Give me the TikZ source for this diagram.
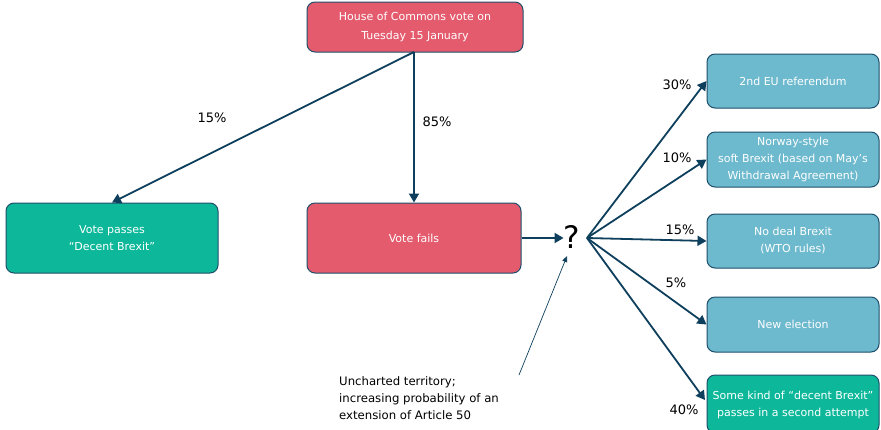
\documentclass[tikz,border=0pt]{standalone}
\usepackage{fontspec}
\setmainfont{DejaVu Sans}
\usetikzlibrary{arrows.meta}
\definecolor{pinkbox}{HTML}{E45B6E}
\definecolor{greenbox}{HTML}{0DB89A}
\definecolor{bluebox}{HTML}{6DB9CE}
\definecolor{edgec}{HTML}{1E4F6A}
\definecolor{arrc}{HTML}{0E3F5C}
\tikzset{
  box/.style={draw=edgec, line width=1pt, rounded corners=8pt, text=white, align=center, font=\fontsize{11}{17}\selectfont, inner sep=0pt},
  conn/.style={draw=arrc, line width=1.8pt, -{Triangle[length=9pt,width=10pt]}},
  thinconn/.style={draw=arrc, line width=0.7pt, -{Triangle[length=6pt,width=5pt]}},
  pct/.style={font=\fontsize{13}{13}\selectfont, text=black}
}
\begin{document}
\begin{tikzpicture}[x=1pt,y=-1pt]
\useasboundingbox (0,0) rectangle (881,429);
\clip (0,0) rectangle (881,429);
\fill[white] (0,0) rectangle (881,429);
\node[box, fill=pinkbox, minimum width=216pt, minimum height=50pt, font=\fontsize{11}{19}\selectfont] (top) at (415,27) {House of Commons vote on\\Tuesday 15 January};
\node[box, fill=greenbox, minimum width=212pt, minimum height=70pt] (pass) at (112,238) {Vote passes\\“Decent Brexit”};
\node[box, fill=pinkbox, minimum width=214pt, minimum height=70pt] (fail) at (414,238) {Vote fails};
\node[font=\fontsize{31}{31}\selectfont, inner sep=0pt, text=black] (q) at (572,237) {?};
\coordinate (qs) at (587,238);
\node[box, fill=bluebox, minimum width=172pt, minimum height=54pt] (r1) at (793,81) {2nd EU referendum};
\node[box, fill=bluebox, minimum width=172pt, minimum height=55pt] (r2) at (793,159.5) {Norway-style\\soft Brexit (based on May’s\\Withdrawal Agreement)};
\node[box, fill=bluebox, minimum width=172pt, minimum height=54pt] (r3) at (793,241) {No deal Brexit\\(WTO rules)};
\node[box, fill=bluebox, minimum width=172pt, minimum height=55pt] (r4) at (793,324.5) {New election};
\node[box, fill=greenbox, minimum width=172pt, minimum height=58pt, text depth=0pt] (r5) at (793,404) {Some kind of “decent Brexit”\\passes in a second attempt};
\coordinate (ts) at (414,52);
\draw[conn] (ts) -- (fail.north);
\draw[conn] (ts) -- (pass.north);
\draw[conn] (fail.east) -- (fail.east -| q.west);
\draw[conn] (qs) -- (r1.west);
\draw[conn] (qs) -- (r2.west);
\draw[conn] (qs) -- (r3.west);
\draw[conn] (qs) -- (r4.west);
\draw[conn] (qs) -- (705,400);
\node[pct] (p85) at (437,122) {85\%};
\node[pct] (p15) at (212,118) {15\%};
\node[pct] (p30) at (677,85) {30\%};
\node[pct] (p10) at (677,158) {10\%};
\node[pct] (p15b) at (680,230) {15\%};
\node[pct] (p5) at (676,283) {5\%};
\node[pct] (p40) at (684,410) {40\%};
\node[font=\fontsize{11.7}{17}\selectfont, align=left, anchor=north west, inner sep=0pt] (note) at (339,376) {Uncharted territory;\\increasing probability of an\\extension of Article 50};
\coordinate (ns) at (519,375);
\draw[thinconn] (ns) -- (567,256);
\end{tikzpicture}
\end{document}
